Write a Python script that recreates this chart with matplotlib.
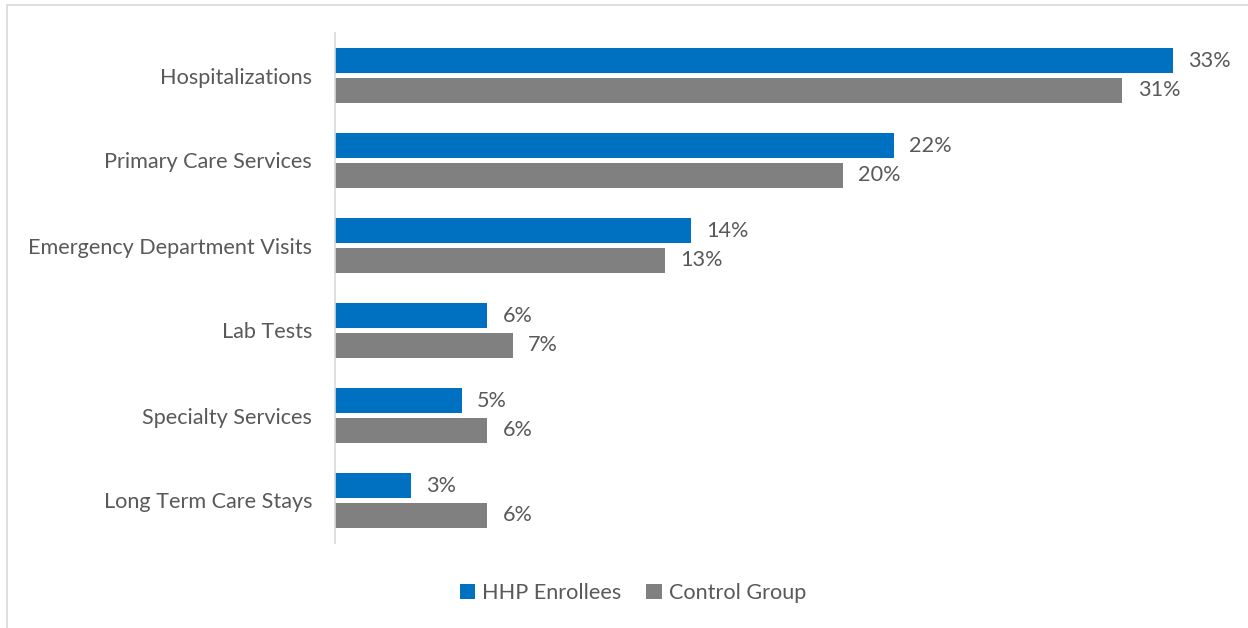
import numpy as np
import matplotlib.pyplot as plt
from matplotlib.patches import Rectangle

# --- data ---
categories = ["Hospitalizations", "Primary Care Services", "Emergency Department Visits",
              "Lab Tests", "Specialty Services", "Long Term Care Stays"]
hhp_vals = [33, 22, 14, 6, 5, 3]
control_vals = [31, 20, 13, 7, 6, 6]
series_names = ["HHP Enrollees", "Control Group"]

BLUE = "#0070C0"
GRAY = "#808080"
TEXT = "#595959"
FS = 15.6

plt.rcParams['font.family'] = ['Lato', 'DejaVu Sans']

W, H = 1248, 628
fig = plt.figure(figsize=(W / 100, H / 100), dpi=100)

# light outer frame of the chart area
fig.patches.append(Rectangle((7 / W, -0.05), 1.2, 1 - 5 / H + 0.05, transform=fig.transFigure,
                             fill=False, edgecolor="#D9D9D9", lw=1.2, zorder=0))

ax = fig.add_axes([335 / W, 1 - 543 / H, 900 / W, 510 / H])

y = np.arange(len(categories))
h = 0.294
off = 0.171
ax.barh(y - off, hhp_vals, height=h, color=BLUE, label=series_names[0])
ax.barh(y + off, control_vals, height=h, color=GRAY, label=series_names[1])

for yi, v in zip(y, hhp_vals):
    ax.text(v + 0.6, yi - off, f"{v}%", va="center", ha="left", fontsize=FS, color=TEXT)
for yi, v in zip(y, control_vals):
    ax.text(v + 0.6, yi + off, f"{v}%", va="center", ha="left", fontsize=FS, color=TEXT)

ax.set_xlim(0, 35.43)
ax.set_ylim(len(categories) - 0.5, -0.5)
ax.set_yticks(y)
ax.set_yticklabels(categories, fontsize=FS, color=TEXT)
ax.tick_params(axis="y", length=0, pad=16.5)
ax.set_xticks([])
for s in ["top", "right", "bottom"]:
    ax.spines[s].set_visible(False)
ax.spines["left"].set_color("#D9D9D9")
ax.spines["left"].set_linewidth(1.2)

fig.legend(loc="center", bbox_to_anchor=(633 / W, 1 - 593 / H), ncol=2, frameon=False,
           fontsize=FS, labelcolor=TEXT, handlelength=0.7, handleheight=0.7,
           handletextpad=0.35, columnspacing=1.15)

fig.savefig("out.png", dpi=100)
